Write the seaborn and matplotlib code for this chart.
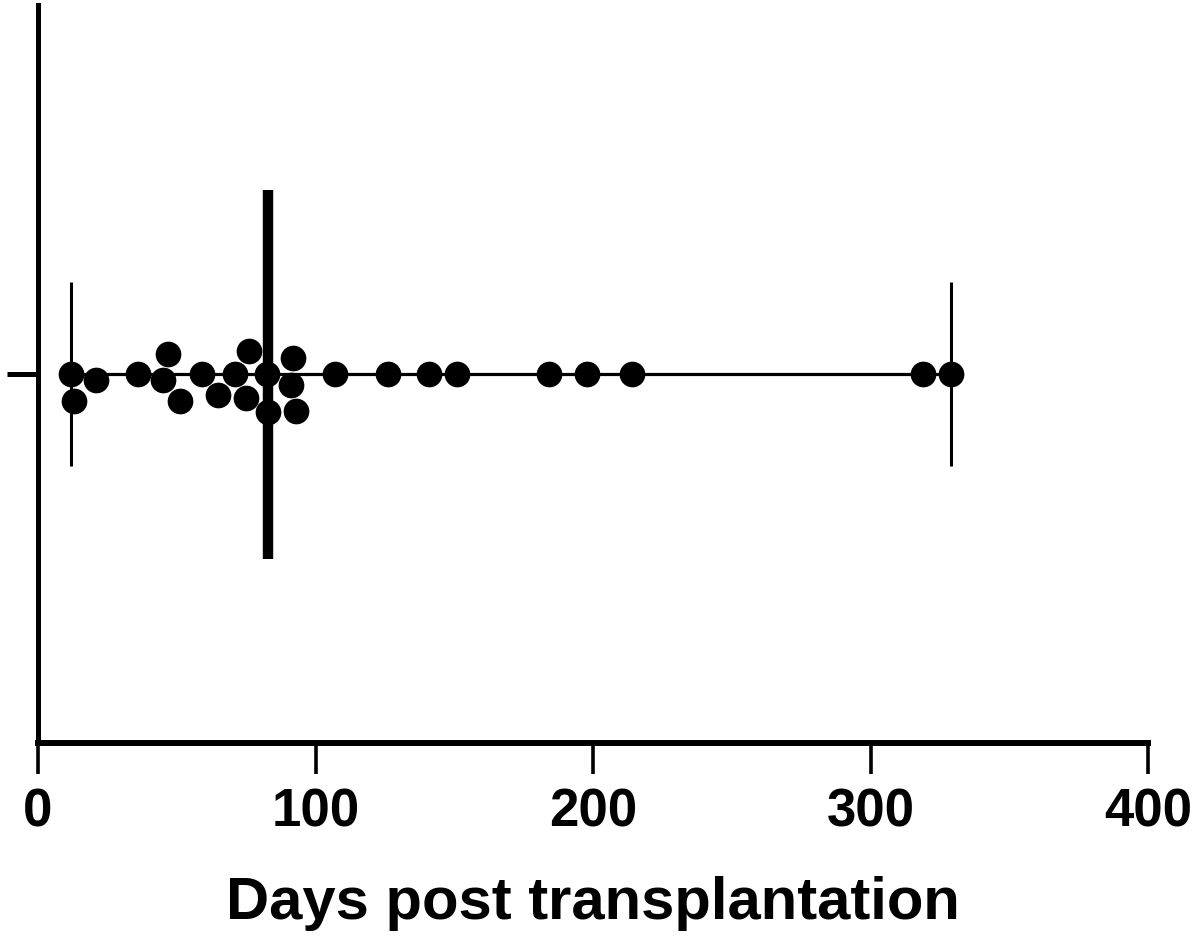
import numpy as np
import pandas as pd
import matplotlib
matplotlib.use("Agg")
import matplotlib.pyplot as plt
import seaborn as sns

# days post transplantation, one value per patient
days = [12, 13, 21, 36, 45, 47, 51, 59, 65, 71, 75, 76, 82.5, 83,
        91, 92, 93, 107, 126, 141, 151, 184, 198, 214, 319, 329]
group = ["all"] * len(days)
x_ticks = [0, 100, 200, 300, 400]
x_label = "Days post transplantation"

sns.set_style("ticks", {"axes.edgecolor": "black", "xtick.color": "black",
                        "ytick.color": "black", "text.color": "black",
                        "axes.labelcolor": "black"})
plt.rcParams['font.family'] = ['Liberation Sans', 'DejaVu Sans']
plt.rcParams['font.weight'] = 'bold'

df = pd.DataFrame({"days": days, "group": group})

fig = plt.figure(figsize=(12, 9.47), dpi=100)
ax = fig.add_axes([0.0317, 0.2154, 0.925, 0.7793])

sns.swarmplot(data=df, x="days", y="group", orient="h", color="black",
              size=18.5, ax=ax, zorder=3)

# median with range (min..max)
med = np.median(days)
lo, hi = min(days), max(days)
ax.hlines(0, lo, hi, color="black", lw=2.3, zorder=2)
ax.vlines(med, -0.25, 0.25, color="black", lw=7.5, zorder=2)
ax.vlines([lo, hi], -0.125, 0.125, color="black", lw=2.2, zorder=2)

ax.set_xlim(0, 400)
ax.set_ylim(0.5, -0.5)
ax.set_xticks(x_ticks)
ax.set_xticklabels([str(t) for t in x_ticks], fontsize=38, fontweight="bold",
                   color="black")
ax.set_yticks([0])
ax.set_yticklabels([""])
ax.set_ylabel("")
ax.set_xlabel(x_label, fontsize=43, fontweight="bold", labelpad=28,
              color="black")

ax.spines["top"].set_visible(False)
ax.spines["right"].set_visible(False)
ax.spines["left"].set_linewidth(3.6)
ax.spines["bottom"].set_linewidth(4.3)
ax.tick_params(axis="x", length=22, width=2.6, pad=10, colors="black")
ax.tick_params(axis="y", length=22, width=3.6, colors="black")

fig.savefig("out.png", dpi=100)
